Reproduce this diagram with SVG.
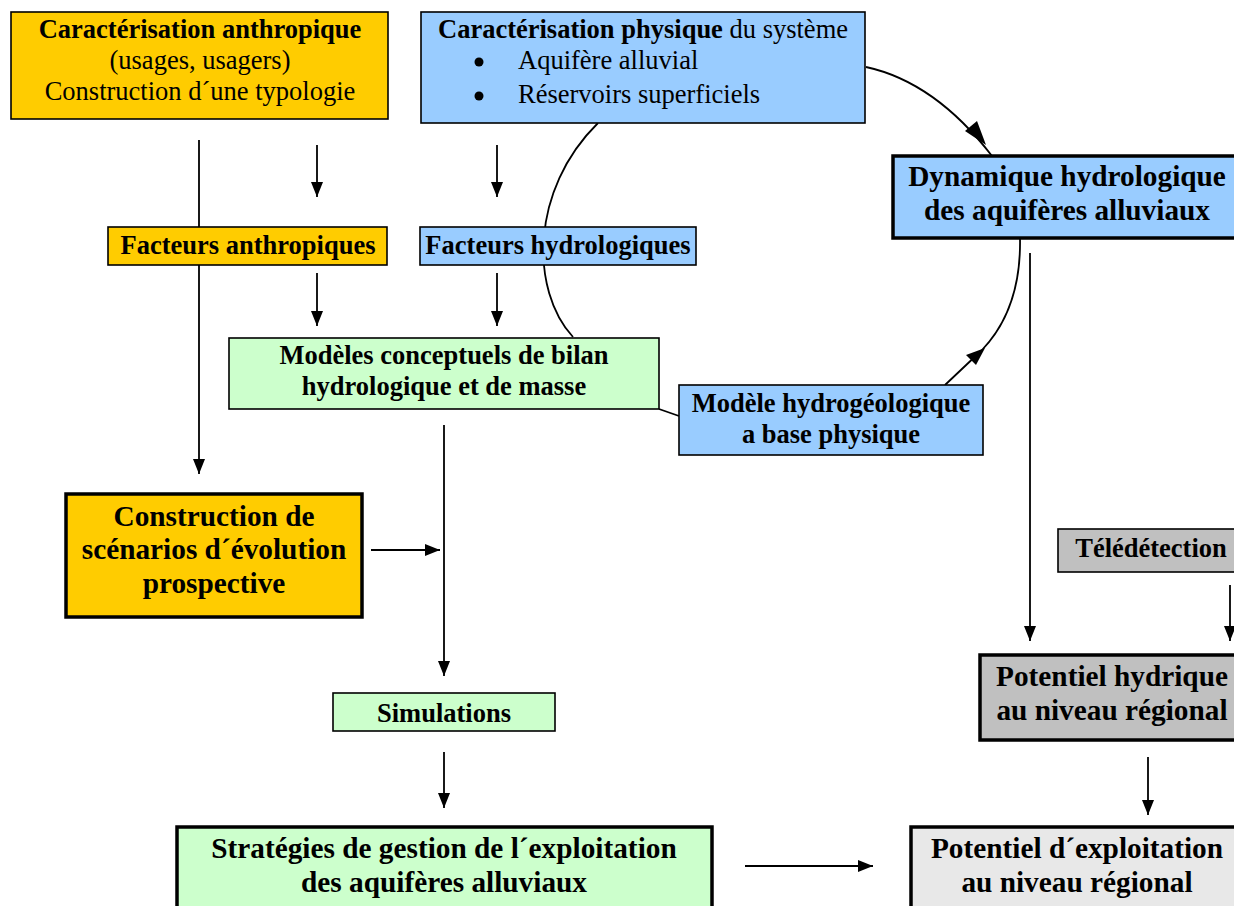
<svg xmlns="http://www.w3.org/2000/svg" width="1234" height="906" viewBox="0 0 1234 906">
<defs>
<style>
text{font-family:"Liberation Serif","Times New Roman",serif;fill:#000;text-anchor:middle}
.b{font-weight:bold}
.s{font-size:26.5px}
.L{font-size:29.3px}
.box{stroke:#000;stroke-width:1.6}
.thick{stroke:#000;stroke-width:3.5}
.y{fill:#FFCC00}.bl{fill:#99CCFF}.g{fill:#CCFFCC}.gr{fill:#C0C0C0}.lg{fill:#E8E8E8}
.c{fill:none;stroke:#000;stroke-width:1.8}
</style>
<marker id="ah" viewBox="0 0 15 12" refX="15" refY="6" markerWidth="15" markerHeight="12" markerUnits="userSpaceOnUse" orient="auto"><path d="M0,0 L15,6 L0,12 z" fill="#000"/></marker>
</defs>
<rect width="1234" height="906" fill="#fff"/>
<g id="connectors">
<path class="c" d="M199,140 V474" marker-end="url(#ah)"/>
<path class="c" d="M317,145 V197" marker-end="url(#ah)"/>
<path class="c" d="M497,145 V197" marker-end="url(#ah)"/>
<path class="c" d="M317,273 V326" marker-end="url(#ah)"/>
<path class="c" d="M497,273 V326" marker-end="url(#ah)"/>
<path class="c" d="M444,425 V676" marker-end="url(#ah)"/>
<path class="c" d="M371,550 H440" marker-end="url(#ah)"/>
<path class="c" d="M444,752 V808" marker-end="url(#ah)"/>
<path class="c" d="M745,866 H873" marker-end="url(#ah)"/>
<path class="c" d="M1030,253 V641" marker-end="url(#ah)"/>
<path class="c" d="M1230,585 V641" marker-end="url(#ah)"/>
<path class="c" d="M1148,757 V815" marker-end="url(#ah)"/>
<path class="c" d="M598,123 C530,190 530,290 573,337"/>
<path class="c" d="M659,409 L679,416"/>
<path class="c" d="M866,67 Q935,82 992,156"/>
<polygon points="986,145 965,131 977,121" fill="#000"/>
<path class="c" d="M1020,238 C1021,290 1006,325 982,350 L945,385"/>
<polygon points="985,348 966,355 976,365" fill="#000"/>
</g>
<g id="car-anthropique">
<rect class="box y" x="11" y="12" width="377" height="107"/>
<text class="s" x="200" y="38"><tspan class="b">Caractérisation anthropique</tspan></text>
<text class="s" x="200" y="69">(usages, usagers)</text>
<text class="s" x="200" y="100">Construction d´une typologie</text>
</g>
<g id="car-physique">
<rect class="box bl" x="421" y="12" width="444" height="111"/>
<text class="s" x="643" y="38"><tspan class="b">Caractérisation physique</tspan> du système</text>
<circle cx="479" cy="62" r="4.5" fill="#000"/>
<text class="s" x="518" y="69" style="text-anchor:start">Aquifère alluvial</text>
<circle cx="479" cy="96" r="4.5" fill="#000"/>
<text class="s" x="518" y="103" style="text-anchor:start">Réservoirs superficiels</text>
</g>
<g id="dynamique">
<rect class="thick bl" x="893" y="156" width="345" height="82"/>
<text class="b L" x="1067" y="186">Dynamique hydrologique</text>
<text class="b L" x="1067" y="220">des aquifères alluviaux</text>
</g>
<g id="fact-anthropiques">
<rect class="box y" x="108" y="227" width="279" height="38"/>
<text class="b s" x="248" y="254">Facteurs anthropiques</text>
</g>
<g id="fact-hydrologiques">
<rect class="box bl" x="420" y="227" width="276" height="38"/>
<text class="b s" x="558" y="254">Facteurs hydrologiques</text>
</g>
<g id="modeles-conceptuels">
<rect class="box g" x="229" y="338" width="430" height="71"/>
<text class="b s" x="444" y="364">Modèles conceptuels de bilan</text>
<text class="b s" x="444" y="395">hydrologique et de masse</text>
</g>
<g id="modele-hydrogeologique">
<rect class="box bl" x="679" y="385" width="304" height="70"/>
<text class="b s" x="831" y="412">Modèle hydrogéologique</text>
<text class="b s" x="831" y="443">a base physique</text>
</g>
<g id="scenarios">
<rect class="thick y" x="66" y="494" width="296" height="123"/>
<text class="b L" x="214" y="526">Construction de</text>
<text class="b L" x="214" y="559">scénarios d´évolution</text>
<text class="b L" x="214" y="593">prospective</text>
</g>
<g id="teledetection">
<rect class="box gr" x="1058" y="529" width="180" height="43"/>
<text class="b s" x="1151" y="557">Télédétection</text>
</g>
<g id="potentiel-hydrique">
<rect class="thick gr" x="980" y="655" width="258" height="85"/>
<text class="b L" x="1112" y="686">Potentiel hydrique</text>
<text class="b L" x="1112" y="720">au niveau régional</text>
</g>
<g id="simulations">
<rect class="box g" x="333" y="693" width="222" height="38"/>
<text class="b s" x="444" y="722">Simulations</text>
</g>
<g id="strategies">
<rect class="thick g" x="177" y="827" width="535" height="90"/>
<text class="b L" x="444" y="858">Stratégies de gestion de l´exploitation</text>
<text class="b L" x="444" y="892">des aquifères alluviaux</text>
</g>
<g id="potentiel-exploitation">
<rect class="thick lg" x="911" y="827" width="330" height="90"/>
<text class="b L" x="1077" y="858">Potentiel d´exploitation</text>
<text class="b L" x="1077" y="892">au niveau régional</text>
</g>
</svg>
